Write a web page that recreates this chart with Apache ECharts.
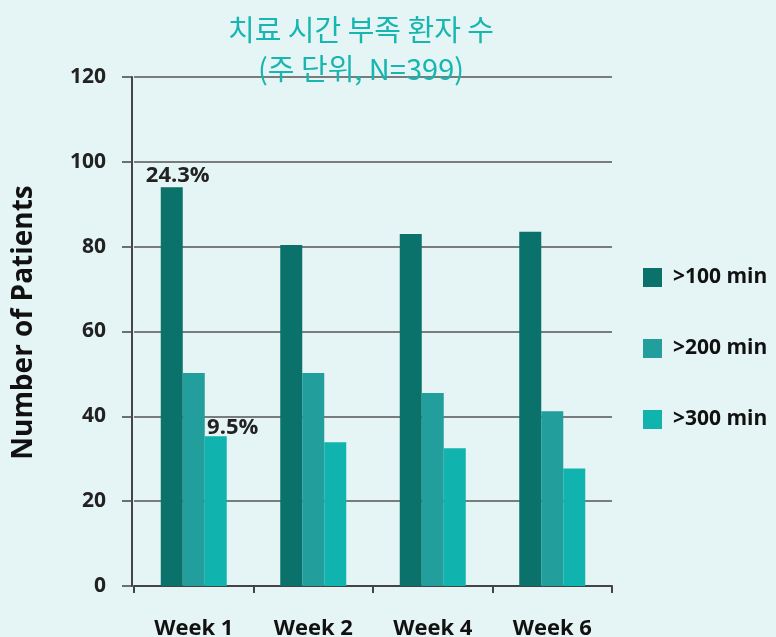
<!DOCTYPE html>
<html>
<head>
<meta charset="utf-8">
<script src="https://cdn.jsdelivr.net/npm/echarts@6/dist/echarts.min.js"></script>
<style>
  html, body { margin: 0; padding: 0; background: #e5f4f4; }
  #chart { width: 776px; height: 637px; }
</style>
</head>
<body>
<div id="chart"></div>
<script>
  // weeks on the x axis
  var weeks = ['Week 1', 'Week 2', 'Week 4', 'Week 6']
  var seriesNames = ['>100 min', '>200 min', '>300 min']
  // patients per week
  var over100 = [94, 80.4, 83, 83.5]
  var over200 = [50.2, 50.2, 45.5, 41.2]
  var over300 = [35.3, 33.9, 32.5, 27.7]
  // percent notes shown only on week 1
  var over100Note = ['24.3%', '', '', '']
  var over300Note = ['9.5%', '', '', '']

  var colors = ['#0a716b', '#229e9d', '#10b3ae']

  function withNotes(values, notes, offset) {
    return values.map(function (v, i) {
      if (!notes[i]) return v
      return {
        value: v,
        label: {
          show: true,
          position: 'top',
          distance: offset[1],
          offset: [offset[0], 0],
          formatter: notes[i],
          fontFamily: 'Open Sans',
          fontWeight: 'bold',
          fontSize: 22,
          color: '#222'
        }
      }
    })
  }

  var chart = echarts.init(document.getElementById('chart'))
  chart.setOption({
    backgroundColor: '#e5f4f4',
    animation: false,
    title: {
      text: '치료 시간 부족 환자 수\n(주 단위, N=399)',
      left: 356,
      textAlign: 'center',
      top: 5,
      textStyle: {
        fontFamily: 'Noto Sans CJK KR',
        fontWeight: 'normal',
        fontSize: 29,
        lineHeight: 39,
        color: '#17b6b1'
      }
    },
    legend: {
      orient: 'vertical',
      left: 638,
      top: 262,
      itemWidth: 19,
      itemHeight: 19,
      itemGap: 50,
      icon: 'rect',
      data: seriesNames,
      textStyle: {
        fontFamily: 'Open Sans',
        fontWeight: 'bold',
        fontSize: 21,
        lineHeight: 19,
        color: '#111',
        padding: [0, 0, 0, 6]
      }
    },
    grid: {
      left: 134,
      right: 164,
      top: 77,
      bottom: 51,
      outerBoundsMode: 'none'
    },
    xAxis: {
      type: 'category',
      data: weeks,
      axisLine: { lineStyle: { color: '#444', width: 2 } },
      axisTick: { show: true, length: 7, lineStyle: { color: '#444', width: 2 } },
      axisLabel: {
        margin: 32,
        fontFamily: 'Open Sans',
        fontWeight: 'bold',
        fontSize: 22,
        color: '#111'
      }
    },
    yAxis: {
      type: 'value',
      min: 0,
      max: 120,
      interval: 20,
      offset: 2,
      name: 'Number of Patients',
      nameLocation: 'middle',
      nameGap: 94,
      nameTextStyle: {
        fontFamily: 'Open Sans',
        fontWeight: 'bold',
        fontSize: 28,
        color: '#111',
        padding: [0, 0, 0, 18]
      },
      axisLine: { show: true, lineStyle: { color: '#444', width: 2 } },
      axisTick: { show: true, length: 10, lineStyle: { color: '#444', width: 1.5 } },
      axisLabel: {
        margin: 26,
        fontFamily: 'Open Sans',
        fontWeight: 'bold',
        fontSize: 21,
        color: '#222'
      },
      splitLine: { lineStyle: { color: '#555', width: 1.5 } }
    },
    series: [
      {
        name: seriesNames[0],
        type: 'bar',
        barWidth: 22,
        barGap: '0%',
        itemStyle: { color: colors[0] },
        data: withNotes(over100, over100Note, [6, 1])
      },
      {
        name: seriesNames[1],
        type: 'bar',
        barWidth: 22,
        barGap: '0%',
        itemStyle: { color: colors[1] },
        data: over200
      },
      {
        name: seriesNames[2],
        type: 'bar',
        barWidth: 22,
        barGap: '0%',
        itemStyle: { color: colors[2] },
        data: withNotes(over300, over300Note, [17, -2])
      }
    ]
  })
</script>
</body>
</html>
